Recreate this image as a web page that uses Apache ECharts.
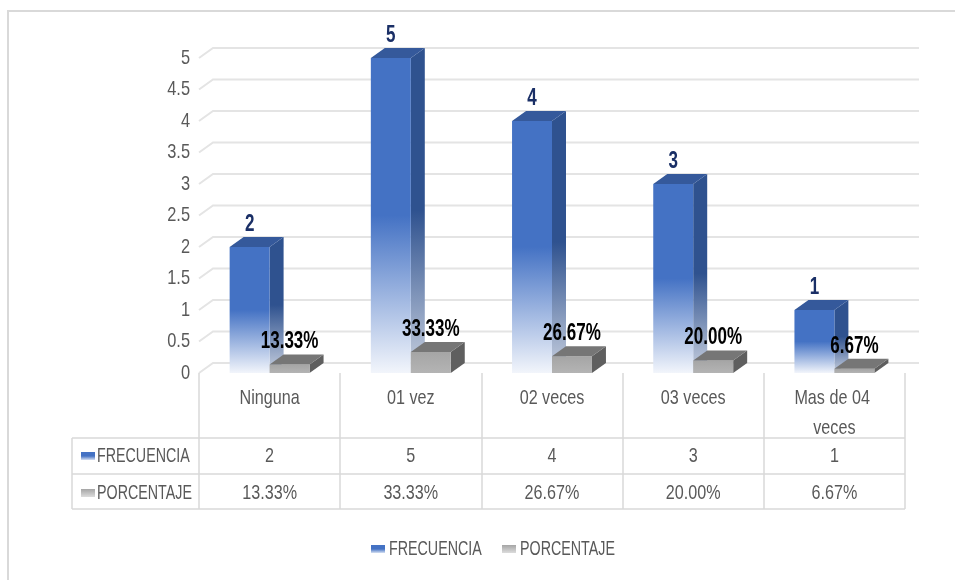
<!DOCTYPE html>
<html>
<head>
<meta charset="utf-8">
<script src="https://cdn.jsdelivr.net/npm/echarts@6/dist/echarts.min.js"></script>
<style>
  html, body { margin: 0; padding: 0; background: #fff; }
  #chart { width: 955px; height: 580px; }
</style>
</head>
<body>
<div id="chart"></div>
<script>
// Survey results: how many times, count and share
const categories = ['Ninguna', '01 vez', '02 veces', '03 veces', 'Mas de 04 veces'];
const frecuencia = [2, 5, 4, 3, 1];
const porcentaje = [0.1333, 0.3333, 0.2667, 0.2000, 0.0667];
const yTicks = [0, 0.5, 1, 1.5, 2, 2.5, 3, 3.5, 4, 4.5, 5];
const seriesNames = ['FRECUENCIA', 'PORCENTAJE'];

const FONT = "'Liberation Sans', Arial, sans-serif";
const TEXT = '#595959';
const LINE = '#d9d9d9';
const DX = 14, DY = 10;          // depth offset of the 3D boxes
const ROW_Y = [398, 456, 493];   // text rows of the data table

const grad = (stops) => new echarts.graphic.LinearGradient(0, 0, 0, 1,
  stops.map(([o, c]) => ({ offset: o, color: c })));

const bluePalette = {
  front: () => grad([[0, '#4472c4'], [0.5, '#4472c4'], [1, '#f2f5fb']]),
  side: () => grad([[0, '#2f528f'], [0.5, '#2f528f'], [1, '#c9d1e0']]),
  top: () => '#35599b',
  key: () => grad([[0, '#4472c4'], [0.5, '#4472c4'], [1, '#d6e0f2']])
};
const grayPalette = {
  front: () => grad([[0, '#a5a5a5'], [1, '#b4b4b4']]),
  side: () => '#5f5f5f',
  top: () => '#767676',
  key: () => grad([[0, '#a5a5a5'], [1, '#dcdcdc']])
};

function pct(v) { return (v * 100).toFixed(2) + '%'; }

// Condensed text: a regular face squeezed horizontally around its anchor
function narrowText(x, y, text, o) {
  o = o || {};
  const style = {
    text: text, fill: o.color || TEXT,
    font: (o.weight || 'normal') + ' ' + (o.size || 21) + 'px ' + FONT,
    align: o.align || 'center', verticalAlign: o.valign || 'middle'
  };
  if (o.width) { style.width = o.width; style.overflow = 'break'; }
  if (o.lineHeight) style.lineHeight = o.lineHeight;
  return { type: 'text', x: x, y: y, scaleX: o.k || 0.75, z2: 10, silent: true, style: style };
}

// A 3D column: front face, right side face, top face and a value label
function bar3D(pal, side, fmt, labelColor) {
  return function (params, api) {
    const idx = api.value(0), val = api.value(1);
    const p0 = api.coord([idx, 0]);
    const p1 = api.coord([idx, val]);
    const bw = api.size([1, 0])[0] * 0.283;
    const x0 = side < 0 ? p0[0] - bw : p0[0];
    const x1 = x0 + bw, yb = p0[1], yt = p1[1];
    return {
      type: 'group',
      children: [
        { type: 'polygon', shape: { points: [[x1, yt], [x1 + DX, yt - DY], [x1 + DX, yb - DY], [x1, yb]] },
          style: { fill: pal.side() } },
        { type: 'rect', shape: { x: x0, y: yt, width: bw, height: yb - yt },
          style: { fill: pal.front() } },
        { type: 'polygon', shape: { points: [[x0, yt], [x0 + DX, yt - DY], [x1 + DX, yt - DY], [x1, yt]] },
          style: { fill: pal.top() } },
        narrowText((x0 + x1) / 2, yt - DY - 1, fmt(val),
          { color: labelColor, weight: 'bold', size: 23, k: 0.74, valign: 'bottom' })
      ]
    };
  };
}

// Back-wall gridline (with the slanted piece on the side wall) and its tick label
function backWallGrid(params, api) {
  const cs = params.coordSys;
  const v = api.value(1);
  const y = api.coord([0, v])[1];
  const left = cs.x, right = cs.x + cs.width;
  return {
    type: 'group',
    children: [
      { type: 'polyline',
        shape: { points: [[left, y], [left + DX, y - DY], [right + DX, y - DY]] },
        style: { stroke: '#e4e4e4', lineWidth: 2, fill: null } },
      narrowText(left - 9, y, String(v), { align: 'right', size: 21, k: 0.78 })
    ]
  };
}

// Data table cells below each category column
function tableColumn(params, api) {
  const i = api.value(0);
  const x = api.coord([i, 0])[0];
  return {
    type: 'group',
    children: [
      narrowText(x, ROW_Y[0] - 15, categories[i], { valign: 'top', width: 130, lineHeight: 30, size: 21, k: 0.77 }),
      narrowText(x, ROW_Y[1], String(frecuencia[i]), { size: 21, k: 0.77 }),
      narrowText(x, ROW_Y[2], pct(porcentaje[i]), { size: 21, k: 0.77 })
    ]
  };
}

const chart = echarts.init(document.getElementById('chart'));

chart.setOption({
  animation: false,
  grid: { left: 199, right: 50, top: 58, bottom: 207 },
  xAxis: {
    type: 'category', data: categories,
    axisLine: { show: false },
    axisTick: { show: true, interval: 0, length: 136, lineStyle: { color: LINE, width: 1.5 } },
    axisLabel: { show: false }
  },
  yAxis: {
    type: 'value', min: 0, max: 5, interval: 0.5,
    axisLine: { show: false }, axisTick: { show: false }, splitLine: { show: false },
    axisLabel: { show: false }
  },
  series: [
    { type: 'custom', name: 'grid', silent: true, z: 0, clip: false,
      renderItem: backWallGrid, encode: { x: 0, y: 1 },
      data: yTicks.map(v => [0, v]) },
    { type: 'custom', name: 'table', silent: true, z: 1, clip: false,
      renderItem: tableColumn, encode: { x: 0, y: 1 },
      data: categories.map((c, i) => [i, 0]) },
    { type: 'custom', name: seriesNames[0], z: 2, clip: false,
      renderItem: bar3D(bluePalette, -1, v => String(v), '#1a2f66'),
      encode: { x: 0, y: 1 },
      data: frecuencia.map((v, i) => [i, v]) },
    { type: 'custom', name: seriesNames[1], z: 3, clip: false,
      renderItem: bar3D(grayPalette, 1, pct, '#000000'),
      encode: { x: 0, y: 1 },
      data: porcentaje.map((v, i) => [i, v]) }
  ],
  graphic: [
    // outer chart border
    { type: 'rect', shape: { x: 8, y: 11, width: 1000, height: 1000 }, silent: true,
      style: { fill: null, stroke: LINE, lineWidth: 2 } },
    // data table rules
    { type: 'line', shape: { x1: 72, y1: 438, x2: 905, y2: 438 }, style: { stroke: LINE, lineWidth: 1.5 } },
    { type: 'line', shape: { x1: 72, y1: 474, x2: 905, y2: 474 }, style: { stroke: LINE, lineWidth: 1.5 } },
    { type: 'line', shape: { x1: 72, y1: 509, x2: 905, y2: 509 }, style: { stroke: LINE, lineWidth: 1.5 } },
    { type: 'line', shape: { x1: 72, y1: 438, x2: 72, y2: 509 }, style: { stroke: LINE, lineWidth: 1.5 } },
    // row headers with series keys
    { type: 'rect', shape: { x: 81, y: 452, width: 14, height: 8 }, style: { fill: bluePalette.key() } },
    narrowText(97, ROW_Y[1], seriesNames[0], { align: 'left', size: 21, k: 0.68 }),
    { type: 'rect', shape: { x: 81, y: 489, width: 14, height: 8 }, style: { fill: grayPalette.key() } },
    narrowText(97, ROW_Y[2], seriesNames[1], { align: 'left', size: 21, k: 0.68 }),
    // legend
    { type: 'rect', shape: { x: 371, y: 545, width: 14, height: 8 }, style: { fill: bluePalette.key() } },
    narrowText(389, 549, seriesNames[0], { align: 'left', size: 21, k: 0.68 }),
    { type: 'rect', shape: { x: 502, y: 545, width: 14, height: 8 }, style: { fill: grayPalette.key() } },
    narrowText(520, 549, seriesNames[1], { align: 'left', size: 21, k: 0.68 })
  ]
});
</script>
</body>
</html>
